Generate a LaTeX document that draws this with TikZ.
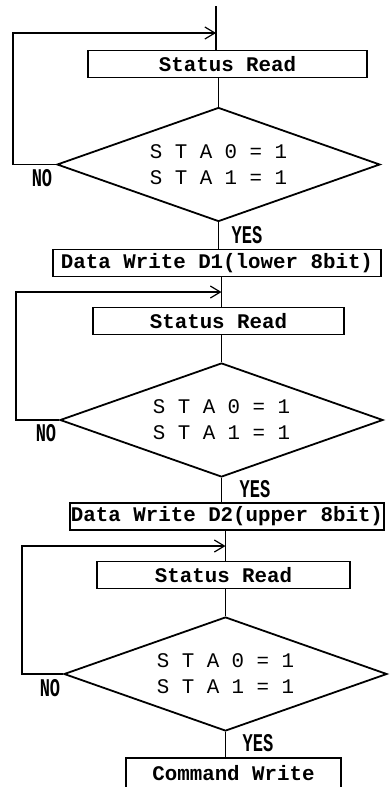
\documentclass[tikz,border=0pt]{standalone}
\usepackage{fontspec}
\setmonofont{Liberation Mono}
\usetikzlibrary{shapes.geometric,arrows.meta}

\begin{document}
\begin{tikzpicture}[x=0.5pt,y=-0.5pt,line width=0.9pt,
  proc/.style={draw,rectangle,minimum height=13.5pt,inner sep=0pt,font=\ttfamily\bfseries\fontsize{10.4}{12}\selectfont},
  test/.style={draw,diamond,aspect=2.85,minimum width=161.5pt,minimum height=57pt,inner sep=0pt,align=center,font=\ttfamily\fontsize{10.4}{13}\selectfont},
  answer/.style={inner sep=0pt,font=\ttfamily\bfseries\fontsize{8.5}{10}\selectfont,yscale=1.5,transform shape},
  loopline/.style={-{Straight Barb[length=5pt,width=6pt,line width=0.6pt]}}]
  \useasboundingbox (0,0) rectangle (390,787);

  \coordinate (top) at (216,6);
  \node[proc,minimum width=139.5pt] (s1) at (227.5,64) {Status Read};
  \node[test] (c1) at (218.5,164.5) {S T A 0 = 1\\S T A 1 = 1};
  \node[proc,minimum width=164pt] (d1) at (217,263) {Data Write D1(lower 8bit)};

  \node[proc,minimum width=125.5pt] (s2) at (218.5,321) {Status Read};
  \node[test] (c2) at (221.5,420) {S T A 0 = 1\\S T A 1 = 1};
  \node[proc,minimum width=157pt] (d2) at (227,516.5) {Data Write D2(upper 8bit)};

  \node[proc,minimum width=126.5pt] (s3) at (223.5,575) {Status Read};
  \node[test] (c3) at (225.5,674) {S T A 0 = 1\\S T A 1 = 1};
  \node[proc,minimum width=107.5pt,minimum height=15pt] (cw) at (233.5,773) {Command Write};

  \draw (top) -- (top |- s1.north);
  \draw (c1.north |- s1.south) -- (c1.north);
  \draw (c1.south) -- (c1.south |- d1.north);
  \draw (c2.north |- d1.south) -- (c2.north |- s2.north);
  \draw (c2.north |- s2.south) -- (c2.north);
  \draw (c2.south) -- (c2.south |- d2.north);
  \draw (c3.north |- d2.south) -- (c3.north |- s3.north);
  \draw (c3.north |- s3.south) -- (c3.north);
  \draw (c3.south) -- (c3.south |- cw.north);

  \coordinate (m1) at (216,33);
  \coordinate (m2) at (221.5,292);
  \coordinate (m3) at (225.5,546);
  \draw[loopline] (c1.west) -- ++(-43,0) |- (m1);
  \draw[loopline] (c2.west) -- ++(-43,0) |- (m2);
  \draw[loopline] (c3.west) -- ++(-41,0) |- (m3);

  \node[answer] (no1) at (42,178) {NO};
  \node[answer] (yes1) at (247,235) {YES};
  \node[answer] (no2) at (46,433) {NO};
  \node[answer] (yes2) at (255,489) {YES};
  \node[answer] (no3) at (50,688) {NO};
  \node[answer] (yes3) at (258,743) {YES};
\end{tikzpicture}
\end{document}
